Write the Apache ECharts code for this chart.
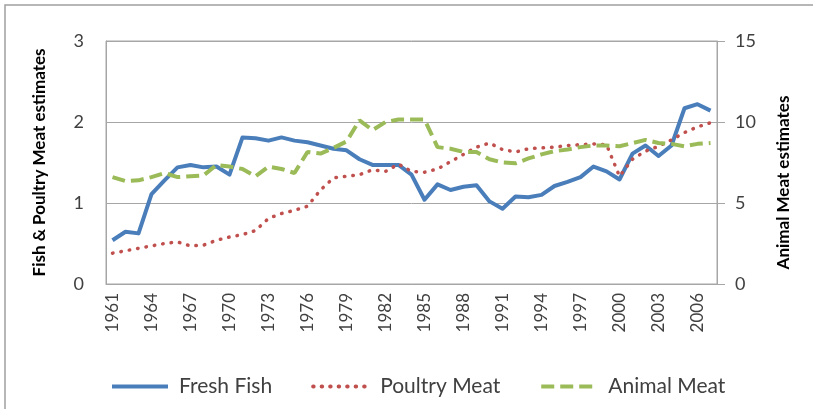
<!DOCTYPE html>
<html>
<head>
<meta charset="utf-8">
<script src="https://cdn.jsdelivr.net/npm/echarts@6/dist/echarts.min.js"></script>
<style>
  html, body { margin: 0; padding: 0; background: #fff; }
  #main { width: 813px; height: 409px; }
</style>
</head>
<body>
<div id="main"></div>
<script>
var years = [];
for (var y = 1961; y <= 2007; y++) { years.push(String(y)); }

// left axis values
var freshFish = [0.54, 0.645, 0.625, 1.11, 1.28, 1.44, 1.47, 1.44, 1.45, 1.35,
    1.81, 1.80, 1.77, 1.81, 1.77, 1.75, 1.71, 1.67, 1.65, 1.54,
    1.47, 1.47, 1.47, 1.35, 1.04, 1.23, 1.16, 1.20, 1.22, 1.02,
    0.93, 1.08, 1.07, 1.10, 1.21, 1.26, 1.32, 1.45, 1.39, 1.29,
    1.61, 1.71, 1.58, 1.71, 2.17, 2.22, 2.14];

var poultryMeat = [0.38, 0.41, 0.44, 0.47, 0.50, 0.52, 0.47, 0.48, 0.54, 0.58,
    0.61, 0.66, 0.81, 0.87, 0.91, 0.96, 1.16, 1.31, 1.33, 1.35,
    1.41, 1.39, 1.48, 1.39, 1.38, 1.42, 1.51, 1.60, 1.69, 1.74,
    1.66, 1.63, 1.67, 1.68, 1.69, 1.71, 1.72, 1.73, 1.72, 1.33,
    1.54, 1.64, 1.70, 1.78, 1.87, 1.94, 1.99];

// right axis values
var animalMeat = [6.6, 6.35, 6.4, 6.6, 6.85, 6.6, 6.65, 6.7, 7.35, 7.25,
    7.1, 6.65, 7.25, 7.1, 6.85, 8.15, 8.05, 8.4, 8.8, 10.1,
    9.5, 10.0, 10.15, 10.15, 10.15, 8.45, 8.35, 8.15, 8.15, 7.7,
    7.5, 7.45, 7.75, 8.0, 8.2, 8.3, 8.45, 8.55, 8.55, 8.5,
    8.7, 8.9, 8.7, 8.65, 8.5, 8.65, 8.7];

var myChart = echarts.init(document.getElementById('main'));

var fontName = 'Lato';
var gray = '#a6a6a6';

var option = {
    backgroundColor: '#ffffff',
    animation: false,
    graphic: [{
        type: 'rect',
        shape: { x: 5, y: 5, width: 830, height: 430 },
        style: { fill: 'none', stroke: '#a0a0a0', lineWidth: 1.5 },
        silent: true
    }],
    grid: {
        left: 106,
        right: 96,
        top: 41,
        bottom: 125,
        show: true,
        borderColor: gray,
        borderWidth: 1
    },
    legend: {
        left: 105,
        top: 371,
        itemGap: 39,
        itemWidth: 56,
        itemHeight: 10,
        lineStyle: { width: 4 },
        itemStyle: { color: 'rgba(0,0,0,0)', borderColor: 'rgba(0,0,0,0)', borderWidth: 0 },
        textStyle: { fontFamily: fontName, fontSize: 21, color: '#404040', padding: [0, 0, 0, 6] },
        data: ['Fresh Fish', 'Poultry Meat', 'Animal Meat']
    },
    xAxis: {
        type: 'category',
        data: years,
        boundaryGap: true,
        axisLine: { lineStyle: { color: gray } },
        axisTick: { show: false },
        axisLabel: {
            interval: 2,
            rotate: 90,
            margin: 9,
            fontFamily: fontName,
            fontSize: 17,
            color: '#404040'
        },
        splitLine: { show: false }
    },
    yAxis: [{
        type: 'value',
        min: 0,
        max: 3,
        interval: 1,
        name: 'Fish & Poultry Meat estimates',
        nameLocation: 'middle',
        nameRotate: 90,
        nameGap: 58,
        nameTextStyle: { fontFamily: fontName, fontSize: 17, fontWeight: 'bold', color: '#000' },
        axisLine: { show: true, lineStyle: { color: gray } },
        axisTick: { show: false },
        axisLabel: { margin: 22, fontFamily: fontName, fontSize: 18, color: '#404040' },
        splitLine: { lineStyle: { color: gray } }
    }, {
        type: 'value',
        min: 0,
        max: 15,
        interval: 5,
        position: 'right',
        name: 'Animal Meat estimates',
        nameLocation: 'middle',
        nameRotate: 90,
        nameGap: 58,
        nameTextStyle: { fontFamily: fontName, fontSize: 17, fontWeight: 'bold', color: '#000', padding: [0, 40, 0, 0] },
        axisLine: { show: true, lineStyle: { color: gray } },
        axisTick: { show: true, length: 8, lineStyle: { color: gray } },
        axisLabel: { margin: 18, fontFamily: fontName, fontSize: 18, color: '#404040' },
        splitLine: { show: false }
    }],
    series: [{
        name: 'Fresh Fish',
        type: 'line',
        symbol: 'none',
        data: freshFish,
        lineStyle: { color: '#4a7ebb', width: 4, join: 'round' },
        itemStyle: { color: '#4a7ebb' }
    }, {
        name: 'Poultry Meat',
        type: 'line',
        symbol: 'none',
        data: poultryMeat,
        lineStyle: { color: '#c0504d', width: 3.5, type: [0.5, 8], cap: 'round' },
        itemStyle: { color: '#c0504d' }
    }, {
        name: 'Animal Meat',
        type: 'line',
        symbol: 'none',
        yAxisIndex: 1,
        data: animalMeat,
        lineStyle: { color: '#9bbb59', width: 4, type: [13, 6] },
        itemStyle: { color: '#9bbb59' }
    }]
};

myChart.setOption(option, true);
</script>
</body>
</html>
